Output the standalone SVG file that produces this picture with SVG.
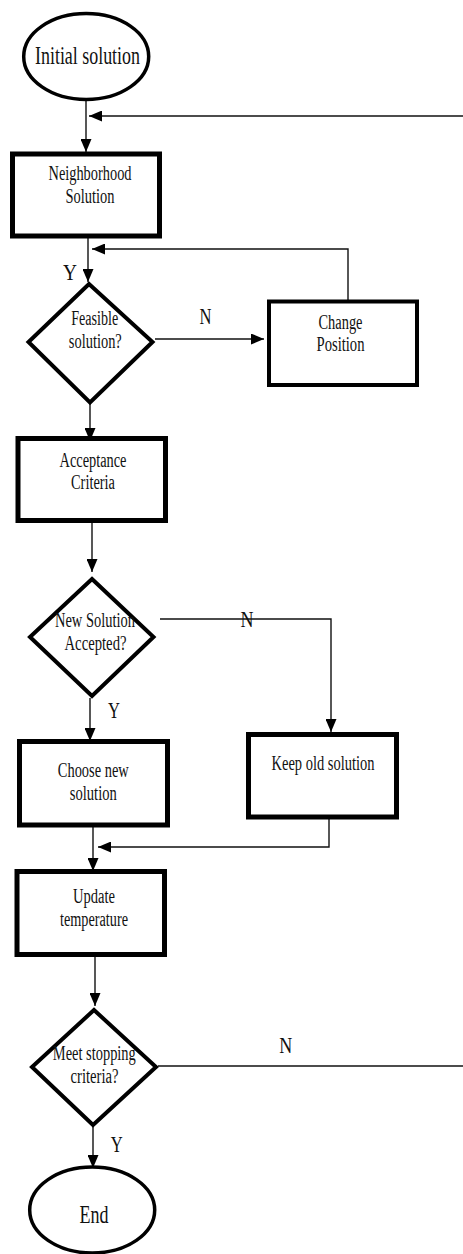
<svg xmlns="http://www.w3.org/2000/svg" width="463" height="1254" viewBox="0 0 463 1254">
<style>
.box{fill:#fff;stroke:#000;stroke-width:5}
.dia{fill:#fff;stroke:#000;stroke-width:4;stroke-linejoin:miter}
.ell{fill:#fff;stroke:#000;stroke-width:3.5}
.con{fill:none;stroke:#111;stroke-width:1.4}
.t{font-family:"Liberation Serif","Times New Roman",serif;font-size:20px;fill:#111;text-anchor:middle}
.lbl{font-family:"Liberation Serif","Times New Roman",serif;font-size:23px;fill:#111;text-anchor:middle}
.big{font-family:"Liberation Serif","Times New Roman",serif;font-size:25px;fill:#111;text-anchor:middle}
</style>
<defs>
<marker id="ah" viewBox="0 0 13 11" refX="13" refY="5.5" markerWidth="13" markerHeight="11" markerUnits="userSpaceOnUse" orient="auto">
<path d="M0,0 L13,5.5 L0,11 z" fill="#000"/>
</marker>
</defs>
<rect width="463" height="1254" fill="#fff"/>
<g id="connectors">
<path class="con" d="M86,101 V152" marker-end="url(#ah)"/>
<path class="con" d="M463,116 H89" marker-end="url(#ah)"/>
<path class="con" d="M88,238 V282" marker-end="url(#ah)"/>
<path class="con" d="M348,300 V249 H92" marker-end="url(#ah)"/>
<path class="con" d="M155,339 H264" marker-end="url(#ah)"/>
<path class="con" d="M90,404 V441" marker-end="url(#ah)"/>
<path class="con" d="M92,523 V572" marker-end="url(#ah)"/>
<path class="con" d="M160,619 H331 V732" marker-end="url(#ah)"/>
<path class="con" d="M90,698 V741" marker-end="url(#ah)"/>
<path class="con" d="M329,819 V847 H98" marker-end="url(#ah)"/>
<path class="con" d="M93,827 V871" marker-end="url(#ah)"/>
<path class="con" d="M95,957 V1006" marker-end="url(#ah)"/>
<path class="con" d="M158,1066 H463"/>
<path class="con" d="M93,1127 V1168" marker-end="url(#ah)"/>
<text class="lbl" x="70" y="280" textLength="14" lengthAdjust="spacingAndGlyphs">Y</text>
<text class="lbl" x="205.5" y="324" textLength="12" lengthAdjust="spacingAndGlyphs">N</text>
<text class="lbl" x="247" y="627" textLength="13" lengthAdjust="spacingAndGlyphs">N</text>
<text class="lbl" x="114" y="718" textLength="12" lengthAdjust="spacingAndGlyphs">Y</text>
<text class="lbl" x="285.7" y="1053" textLength="13" lengthAdjust="spacingAndGlyphs">N</text>
<text class="lbl" x="116.7" y="1152" textLength="12" lengthAdjust="spacingAndGlyphs">Y</text>
</g>
<g id="initial">
<ellipse class="ell" cx="86.2" cy="56.5" rx="62.5" ry="43"/>
<text class="big" x="87.5" y="63.5" textLength="105" lengthAdjust="spacingAndGlyphs">Initial solution</text>
</g>
<g id="neighborhood">
<rect class="box" x="12.5" y="154" width="147" height="82"/>
<text class="t" x="90" y="180" textLength="83" lengthAdjust="spacingAndGlyphs">Neighborhood</text>
<text class="t" x="90" y="203.3" textLength="49" lengthAdjust="spacingAndGlyphs">Solution</text>
</g>
<g id="feasible">
<polygon class="dia" points="89,284 152.5,342 90,402.5 28.5,342"/>
<text class="t" x="94.7" y="325" textLength="47" lengthAdjust="spacingAndGlyphs">Feasible</text>
<text class="t" x="95.3" y="347.5" textLength="53" lengthAdjust="spacingAndGlyphs">solution?</text>
</g>
<g id="change">
<rect class="box" style="stroke-width:4" x="269" y="301.5" width="148" height="83.5"/>
<text class="t" x="340.5" y="328.5" textLength="44" lengthAdjust="spacingAndGlyphs">Change</text>
<text class="t" x="340.5" y="350.7" textLength="48" lengthAdjust="spacingAndGlyphs">Position</text>
</g>
<g id="acceptance">
<rect class="box" x="18" y="438.5" width="147.5" height="82"/>
<text class="t" x="93" y="466.7" textLength="67" lengthAdjust="spacingAndGlyphs">Acceptance</text>
<text class="t" x="93" y="489.3" textLength="44" lengthAdjust="spacingAndGlyphs">Criteria</text>
</g>
<g id="accepted">
<polygon class="dia" points="92,579 153.5,637 92,696 30,637"/>
<text class="t" x="95" y="626.7" textLength="80" lengthAdjust="spacingAndGlyphs">New Solution</text>
<text class="t" x="95.5" y="650" textLength="62" lengthAdjust="spacingAndGlyphs">Accepted?</text>
</g>
<g id="keep">
<rect class="box" x="248.5" y="734.5" width="148" height="82.5"/>
<text class="t" x="323" y="770" textLength="103" lengthAdjust="spacingAndGlyphs">Keep old solution</text>
</g>
<g id="choose">
<rect class="box" x="19.5" y="741.5" width="148" height="83.5"/>
<text class="t" x="93.3" y="777.3" textLength="71" lengthAdjust="spacingAndGlyphs">Choose new</text>
<text class="t" x="93.3" y="800" textLength="47" lengthAdjust="spacingAndGlyphs">solution</text>
</g>
<g id="update">
<rect class="box" x="17" y="871.5" width="147.5" height="83"/>
<text class="t" x="94" y="903.3" textLength="42" lengthAdjust="spacingAndGlyphs">Update</text>
<text class="t" x="94" y="926" textLength="68" lengthAdjust="spacingAndGlyphs">temperature</text>
</g>
<g id="stopping">
<polygon class="dia" points="94,1010 156,1067 93,1125 32,1067"/>
<text class="t" x="94.3" y="1060" textLength="83" lengthAdjust="spacingAndGlyphs">Meet stopping</text>
<text class="t" x="94.5" y="1082.7" textLength="48" lengthAdjust="spacingAndGlyphs">criteria?</text>
</g>
<g id="end">
<ellipse class="ell" cx="92.2" cy="1210" rx="62.5" ry="43"/>
<text class="big" x="94" y="1222.7" textLength="29" lengthAdjust="spacingAndGlyphs">End</text>
</g>
</svg>
